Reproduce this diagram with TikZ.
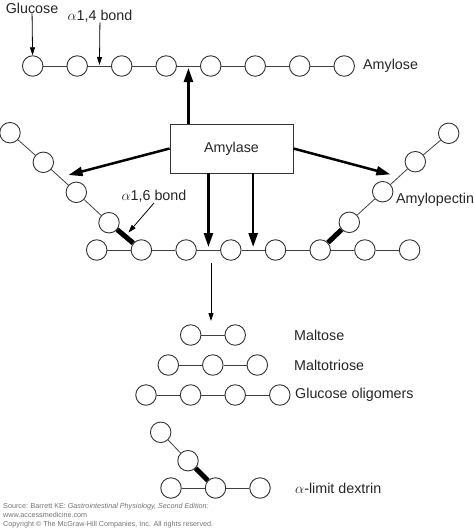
\documentclass[tikz,border=0pt]{standalone}
\usepackage{fontspec}
\setmainfont{Liberation Sans}
\usetikzlibrary{arrows.meta,calc}

\tikzset{
    glc/.style={circle, draw=black!80, fill=white, line width=0.9pt, minimum size=20.5pt, inner sep=0pt},
    bond/.style={draw=black!75, line width=0.8pt},
    branch/.style={draw=black, line width=5pt},
    bigarrow/.style={line width=2.5pt, -{Triangle[length=14pt,width=9pt]}},
    smallarrow/.style={line width=0.8pt, -{Triangle[length=8pt,width=5pt]}},
    lbl/.style={font=\fontsize{14.3}{16}\selectfont, text=black!85, inner sep=0pt}
}

\begin{document}
\begin{tikzpicture}[x=1pt, y=-1pt]
        \useasboundingbox (0,0) rectangle (474,531);

        % amylose chain
        \foreach \i in {1,...,8} {
            \node[glc] (am\i) at ({32.7+44.5*(\i-1)}, 66) {};
        }
        \foreach \i [count=\j from 2] in {1,...,7} {
            \draw[bond] (am\i) -- (am\j);
        }
        \node[lbl, anchor=west] (amylose) at (363, 66) {Amylose};
        \node[lbl] (glucose) at (32, 8) {Glucose};
        \node[lbl] (a14) at (100, 16) {$\alpha$1,4 bond};
        \coordinate (cut0) at ($(am2)!0.5!(am3)$);
        \coordinate (cut1) at ($(am4)!0.5!(am5)$);
        \draw[smallarrow] (glucose) -- (am1);
        \draw[smallarrow, shorten >=1pt] (a14) -- (cut0);

        % amylopectin chain
        \foreach \i in {1,...,8} {
            \node[glc] (mr\i) at ({96.7+44.7*(\i-1)}, 250) {};
        }
        \foreach \i [count=\j from 2] in {1,...,7} {
            \draw[bond] (mr\i) -- (mr\j);
        }
        \node[glc] (lb1) at (109, 222.7) {};
        \node[glc] (lb2) at (76.3, 192.3) {};
        \node[glc] (lb3) at (43.3, 162.3) {};
        \node[glc] (lb4) at (10, 132.7) {};
        \node[glc] (rb1) at (349.3, 222.3) {};
        \node[glc] (rb2) at (382.7, 191.7) {};
        \node[glc] (rb3) at (415.3, 161.7) {};
        \node[glc] (rb4) at (448.7, 133.3) {};
        \draw[bond] (lb1) -- (lb2) -- (lb3) -- (lb4);
        \draw[bond] (rb1) -- (rb2) -- (rb3) -- (rb4);
        \draw[branch] (mr2) -- (lb1);
        \draw[branch] (mr6) -- (rb1);
        \node[lbl, anchor=west] (amylopectin) at (396, 200) {Amylopectin};
        \node[lbl] (a16) at (154, 196.7) {$\alpha$1,6 bond};
        \draw[smallarrow, shorten >=5pt] (a16.south) -- ($(mr2)!0.5!(lb1)$);
        \coordinate (cut2) at ($(mr3)!0.5!(mr4)$);
        \coordinate (cut3) at ($(mr4)!0.5!(mr5)$);

        % enzyme
        \node[lbl, draw=black!80, line width=0.8pt, minimum width=123pt, minimum height=49pt] (amylase) at (231.5, 148.5) {Amylase};
        \draw[bigarrow, shorten >=2pt] (amylase.north -| cut1) -- (cut1);
        \draw[bigarrow, shorten >=9pt] (amylase.west) -- ($(lb2)!0.5!(lb3)$);
        \draw[bigarrow, shorten >=9pt] (amylase.east) -- ($(rb2)!0.5!(rb3)$);
        \draw[bigarrow, shorten >=3pt] (amylase.south -| cut2) -- (cut2);
        \draw[bigarrow, shorten >=3pt] (amylase.south -| cut3) -- (cut3);

        % products
        \coordinate (prodtop) at (211, 263);
        \coordinate (prodend) at (211, 321);
        \draw[smallarrow] (prodtop) -- (prodend);

        \node[glc] (ma1) at (190.7, 335) {};
        \node[glc] (ma2) at (235.2, 335) {};
        \draw[bond] (ma1) -- (ma2);
        \node[lbl, anchor=west] (maltose) at (294, 335) {Maltose};

        \foreach \i in {1,2,3} {
            \node[glc] (mt\i) at ({168.3+44.5*(\i-1)}, 365) {};
        }
        \draw[bond] (mt1) -- (mt2) -- (mt3);
        \node[lbl, anchor=west] (maltotriose) at (294, 365) {Maltotriose};

        \foreach \i in {1,...,4} {
            \node[glc] (go\i) at ({146+44.6*(\i-1)}, 395) {};
        }
        \draw[bond] (go1) -- (go2) -- (go3) -- (go4);
        \node[lbl, anchor=west] (oligomers) at (295, 395) {Glucose oligomers};

        \foreach \i in {1,2,3} {
            \node[glc] (dx\i) at ({171+44.5*(\i-1)}, 488) {};
        }
        \node[glc] (db1) at (188, 460.7) {};
        \node[glc] (db2) at (160.7, 432.3) {};
        \draw[bond] (dx1) -- (dx2) -- (dx3);
        \draw[bond] (db1) -- (db2);
        \draw[branch] (dx2) -- (db1);
        \node[lbl, anchor=west] (dextrin) at (295, 488) {$\alpha$-limit dextrin};

        % source line
        \node[anchor=north west, inner sep=0pt, align=left, text=black!55,
              font=\fontsize{7.2}{8.6}\selectfont] (source) at (3, 503.5)
            {Source: Barrett KE: \textit{Gastrointestinal Physiology, Second Edition:}\\
             www.accessmedicine.com\\
             Copyright \textcopyright{} The McGraw-Hill Companies, Inc. All rights reserved.};
    \end{tikzpicture}
\end{document}
